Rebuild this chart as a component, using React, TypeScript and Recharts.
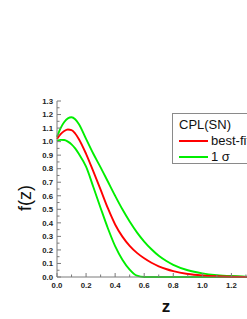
import { LineChart, Line, XAxis, YAxis, Legend, Label } from 'recharts';

// redshift grid and the three curves
const zValues = [0, 0.025, 0.05, 0.075, 0.1, 0.125, 0.15, 0.2, 0.25, 0.3, 0.35, 0.4, 0.45, 0.5, 0.55, 0.6, 0.65, 0.7, 0.75, 0.8, 0.9, 1.0, 1.1, 1.2, 1.3, 1.4, 1.5];
const bestFit = [1.02, 1.055, 1.078, 1.089, 1.085, 1.06, 1.02, 0.91, 0.78, 0.645, 0.508, 0.388, 0.298, 0.23, 0.178, 0.138, 0.105, 0.079, 0.059, 0.043, 0.022, 0.011, 0.005, 0.002, 0.001, 0, 0];
const sigmaUpper = [1.035, 1.1, 1.145, 1.172, 1.18, 1.165, 1.13, 1.02, 0.91, 0.81, 0.705, 0.6, 0.5, 0.41, 0.33, 0.262, 0.205, 0.157, 0.12, 0.09, 0.05, 0.027, 0.014, 0.007, 0.003, 0.001, 0];
const sigmaLower = [1.005, 1.013, 1.012, 1.0, 0.98, 0.95, 0.91, 0.815, 0.665, 0.51, 0.36, 0.228, 0.128, 0.055, 0.01, 0, 0, 0, 0, 0, 0, 0, 0, 0, 0, 0, 0];

const xTicks = [0, 0.1, 0.2, 0.3, 0.4, 0.5, 0.6, 0.7, 0.8, 0.9, 1.0, 1.1, 1.2, 1.3];
const yTicks = [0, 0.05, 0.1, 0.15, 0.2, 0.25, 0.3, 0.35, 0.4, 0.45, 0.5, 0.55, 0.6, 0.65, 0.7, 0.75, 0.8, 0.85, 0.9, 0.95, 1.0, 1.05, 1.1, 1.15, 1.2, 1.25, 1.3];

const legendTitle = 'CPL(SN)';
const legendItems = [
  { label: 'best-fit', color: '#ff0000' },
  { label: '1 σ', color: '#00ee00' },
];

const AXIS = '#7a7a7a';
const FONT = 'Arial, "Liberation Sans", sans-serif';

const data = zValues.map((z, i) => ({ z, best: bestFit[i], upper: sigmaUpper[i], lower: sigmaLower[i] }));

const isMajor = (v: number, step: number) => Math.abs(v / step - Math.round(v / step)) < 1e-6;

function BottomTick({ x, y, payload }: any) {
  const v = payload.value;
  const major = isMajor(v, 0.2);
  const axisY = y - 6;
  return (
    <g>
      <line x1={x} x2={x} y1={axisY} y2={axisY - (major ? 4 : 2.5)} stroke={AXIS} />
      {major && (
        <text x={x} y={axisY + 11} textAnchor="middle" fontSize={7.8} fontWeight="bold" fontFamily={FONT} fill="#222">
          {v.toFixed(1)}
        </text>
      )}
    </g>
  );
}

function LeftTick({ x, y, payload }: any) {
  const v = payload.value;
  const major = isMajor(v, 0.1);
  const axisX = x + 4;
  return (
    <g>
      <line x1={axisX} x2={axisX + (major ? 4 : 2.5)} y1={y} y2={y} stroke={AXIS} />
      {major && (
        <text x={x} y={y + 2.8} textAnchor="end" fontSize={7.8} fontWeight="bold" fontFamily={FONT} fill="#222">
          {v.toFixed(1)}
        </text>
      )}
    </g>
  );
}

function TopTick({ x, y, payload }: any) {
  const major = isMajor(payload.value, 0.2);
  return <line x1={x} x2={x} y1={y} y2={y + (major ? 4 : 2.5)} stroke={AXIS} />;
}

function RightTick({ x, y, payload }: any) {
  const major = isMajor(payload.value, 0.1);
  return <line x1={x} x2={x - (major ? 4 : 2.5)} y1={y} y2={y} stroke={AXIS} />;
}

function LegendBox() {
  return (
    <div
      style={{
        border: '1px solid #8a8a8a',
        background: '#fff',
        width: 92,
        height: 51,
        boxSizing: 'border-box',
        padding: '3px 0 0 6px',
        fontFamily: FONT,
        fontSize: 13,
        color: '#111',
      }}
    >
      <div style={{ height: 16, lineHeight: '16px' }}>{legendTitle}</div>
      {legendItems.map((it) => (
        <div key={it.label} style={{ height: 16, lineHeight: '16px', display: 'flex', alignItems: 'center' }}>
          <span style={{ display: 'inline-block', width: 29, height: 2, background: it.color, marginRight: 3 }} />
          <span>{it.label}</span>
        </div>
      ))}
    </div>
  );
}

export default function App() {
  return (
    <div style={{ position: 'fixed', left: 0, top: 0, width: 247, height: 319, overflow: 'hidden', background: '#fff' }}>
      <LineChart width={300} height={319} data={data} margin={{ top: 101, right: 25, bottom: 0, left: 0 }}>
        <XAxis
          dataKey="z"
          type="number"
          domain={[0, 1.5]}
          ticks={xTicks}
          interval={0}
          height={42}
          stroke={AXIS}
          tickLine={false}
          tickSize={0}
          tickMargin={6}
          tick={<BottomTick />}
        >
          <Label value="z" position="insideBottom" offset={7} style={{ fontSize: 17, fontWeight: 'bold', fontFamily: FONT, fill: '#111' }} />
        </XAxis>
        <XAxis
          xAxisId="top"
          orientation="top"
          dataKey="z"
          type="number"
          domain={[0, 1.5]}
          ticks={xTicks}
          interval={0}
          height={0}
          stroke={AXIS}
          tickLine={false}
          tickSize={0}
          tickMargin={0}
          tick={<TopTick />}
        />
        <YAxis
          type="number"
          domain={[0, 1.3]}
          ticks={yTicks}
          interval={0}
          width={57}
          stroke={AXIS}
          tickLine={false}
          tickSize={0}
          tickMargin={4}
          tick={<LeftTick />}
        >
          <Label
            content={({ viewBox }: any) => {
              const cx = viewBox.x + 25;
              const cy = viewBox.y + viewBox.height / 2 + 9;
              return (
                <text x={cx} y={cy} transform={`rotate(-90 ${cx} ${cy})`} textAnchor="middle" dominantBaseline="central" fontSize={18} fontFamily={FONT} fill="#111">
                  f(z)
                </text>
              );
            }}
          />
        </YAxis>
        <YAxis
          yAxisId="right"
          orientation="right"
          type="number"
          domain={[0, 1.3]}
          ticks={yTicks}
          interval={0}
          width={0}
          stroke={AXIS}
          tickLine={false}
          tickSize={0}
          tickMargin={0}
          tick={<RightTick />}
        />
        <Legend
          layout="horizontal"
          verticalAlign="middle"
          align="center"
          content={() => <LegendBox />}
          wrapperStyle={{ left: 172, top: 113, width: 92, height: 51 }}
        />
        <Line dataKey="upper" type="monotone" stroke="#00ee00" strokeWidth={1.9} dot={false} isAnimationActive={false} legendType="none" />
        <Line dataKey="lower" type="monotone" stroke="#00ee00" strokeWidth={1.9} dot={false} isAnimationActive={false} legendType="none" />
        <Line dataKey="best" type="monotone" stroke="#ff0000" strokeWidth={1.9} dot={false} isAnimationActive={false} legendType="none" />
      </LineChart>
    </div>
  );
}
